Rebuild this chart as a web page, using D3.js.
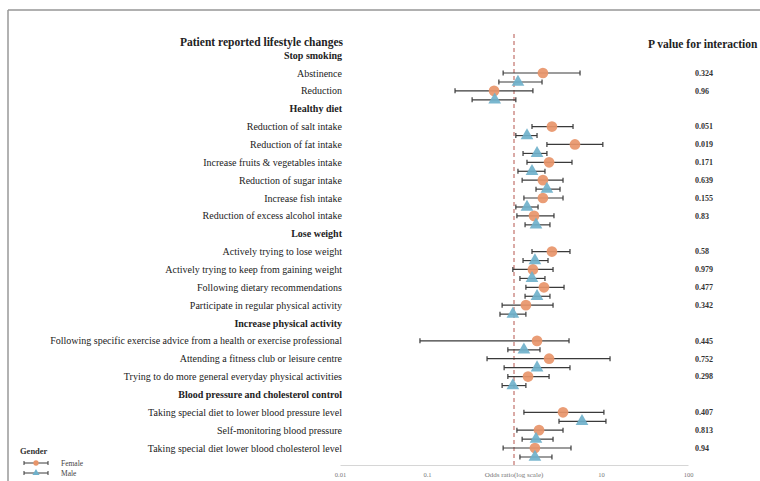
<!DOCTYPE html>
<html>
<head>
<meta charset="utf-8">
<script src="https://cdn.jsdelivr.net/npm/d3@7"></script>
<style>
  html, body { margin: 0; padding: 0; background: #fff; overflow: hidden; }
  svg { display: block; font-family: "Liberation Serif", "DejaVu Serif", serif; }
</style>
</head>
<body>
<svg id="chart" width="760" height="481"></svg>
<script>
// Forest plot: odds ratios of patient-reported lifestyle changes by gender
const title = "Patient reported lifestyle changes";
const pHeader = "P value for interaction";
const axisTitle = "Odds ratio(log scale)";

const groups = [
  "Stop smoking",
  "Healthy diet",
  "Lose weight",
  "Increase physical activity",
  "Blood pressure and cholesterol control"
];

const items = [
  "Abstinence",
  "Reduction",
  "Reduction of salt intake",
  "Reduction of fat intake",
  "Increase fruits & vegetables intake",
  "Reduction of sugar intake",
  "Increase fish intake",
  "Reduction of excess alcohol intake",
  "Actively trying to lose weight",
  "Actively trying to keep from gaining weight",
  "Following dietary recommendations",
  "Participate in regular physical activity",
  "Following specific exercise advice from a health or exercise professional",
  "Attending a fitness club or leisure centre",
  "Trying to do more general everyday physical activities",
  "Taking special diet to lower blood pressure level",
  "Self-monitoring blood pressure",
  "Taking special diet lower blood cholesterol level"
];
const itemGroup = [0, 0, 1, 1, 1, 1, 1, 1, 2, 2, 2, 2, 3, 3, 3, 4, 4, 4];

const femaleOR = [2.15, 0.59, 2.73, 5.02, 2.53, 2.15, 2.15, 1.70, 2.73, 1.65, 2.21, 1.37, 1.84, 2.53, 1.45, 3.66, 1.94, 1.74];
const femaleLo = [0.75, 0.21, 1.61, 2.39, 1.41, 1.24, 1.30, 1.08, 1.61, 0.97, 1.37, 0.73, 0.083, 0.49, 0.85, 1.30, 1.08, 0.75];
const femaleHi = [5.74, 1.65, 4.77, 10.5, 4.64, 3.66, 3.66, 2.88, 4.40, 2.81, 3.76, 2.81, 4.29, 12.7, 2.53, 10.8, 3.66, 4.52];

const maleOR = [1.11, 0.60, 1.41, 1.84, 1.61, 2.39, 1.41, 1.79, 1.74, 1.61, 1.84, 0.97, 1.30, 1.84, 0.97, 6.05, 1.79, 1.74];
const maleLo = [0.67, 0.33, 1.05, 1.27, 1.11, 1.79, 1.05, 1.34, 1.27, 1.17, 1.34, 0.69, 0.85, 0.77, 0.73, 3.29, 1.24, 1.17];
const maleHi = [2.10, 1.05, 1.84, 2.39, 2.27, 3.38, 1.89, 2.59, 2.46, 2.27, 2.59, 1.37, 1.99, 4.40, 1.37, 11.4, 2.81, 2.73];

const pValues = ["0.324", "0.96", "0.051", "0.019", "0.171", "0.639", "0.155", "0.83", "0.58", "0.979", "0.477", "0.342", "0.445", "0.752", "0.298", "0.407", "0.813", "0.94"];

const tickValues = [0.01, 0.1, 10, 100];
const tickLabels = ["0.01", "0.1", "10", "100"];

const legendTitle = "Gender";
const seriesNames = ["Female", "Male"];
const seriesColors = ["#e8956a", "#6fb1cb"];

// ---- layout: one slot per group header and per item ----
const rows = [];
let slot = -1;
groups.forEach((g, gi) => {
  rows.push({ type: "header", text: g, slot: slot });
  slot += 1;
  items.forEach((name, i) => {
    if (itemGroup[i] === gi) {
      rows.push({ type: "item", text: name, slot: slot, i: i });
      slot += 1;
    }
  });
});

const svg = d3.select("#chart");

const x = d3.scaleLog().domain([0.01, 100]).range([340, 688]);
const y = d3.scaleLinear().domain([0, 21]).range([73, 448]);
const maleOffset = 9;

// frame
svg.append("line").attr("x1", 8).attr("x2", 760).attr("y1", 10).attr("y2", 10)
  .attr("stroke", "#b0b0b0").attr("stroke-width", 2);
svg.append("line").attr("x1", 8).attr("x2", 8).attr("y1", 10).attr("y2", 481)
  .attr("stroke", "#999").attr("stroke-width", 1.5);

// titles
svg.append("text").attr("x", 343).attr("y", y(-1) - 13).attr("dy", "0.35em")
  .attr("text-anchor", "end").attr("font-weight", "bold").attr("font-size", 11.5)
  .attr("fill", "#222").text(title);
svg.append("text").attr("x", 648).attr("y", y(-1) - 11).attr("dy", "0.35em")
  .attr("font-weight", "bold").attr("font-size", 11.5)
  .attr("fill", "#222").text(pHeader);

// row labels
svg.append("g").selectAll("text").data(rows).join("text")
  .attr("x", 342)
  .attr("y", d => y(d.slot))
  .attr("dy", "0.35em")
  .attr("text-anchor", "end")
  .attr("font-size", 10)
  .attr("font-weight", d => d.type === "header" ? "bold" : "normal")
  .attr("fill", "#222")
  .text(d => d.text);

// p values
const itemRows = rows.filter(d => d.type === "item");
svg.append("g").selectAll("text").data(itemRows).join("text")
  .attr("x", 695)
  .attr("y", d => y(d.slot))
  .attr("dy", "0.35em")
  .attr("font-size", 8)
  .attr("font-weight", "bold")
  .attr("fill", "#333")
  .text(d => pValues[d.i]);

// x axis
const axisY = 465;
const axis = svg.append("g").attr("transform", `translate(0,${axisY})`)
  .call(d3.axisBottom(x).tickValues(tickValues).tickFormat((d, i) => tickLabels[i]).tickSize(0).tickPadding(7));
axis.select(".domain").attr("stroke", "#d6d6d6");
axis.selectAll("text").attr("font-family", "Liberation Serif, serif").attr("font-size", 6.5).attr("fill", "#777");
svg.append("text").attr("x", x(1)).attr("y", axisY + 7).attr("dy", "0.71em")
  .attr("text-anchor", "middle").attr("font-size", 7).attr("fill", "#777").text(axisTitle);

// reference line at OR = 1
svg.append("line").attr("x1", x(1)).attr("x2", x(1)).attr("y1", 34).attr("y2", axisY)
  .attr("stroke", "#b5544c").attr("stroke-width", 1).attr("stroke-dasharray", "4,3");

// series
const series = [
  { name: seriesNames[0], color: seriesColors[0], or: femaleOR, lo: femaleLo, hi: femaleHi, off: 0, shape: d3.symbolCircle },
  { name: seriesNames[1], color: seriesColors[1], or: maleOR, lo: maleLo, hi: maleHi, off: maleOffset, shape: d3.symbolTriangle }
];

const capH = 2.5;
series.forEach(s => {
  const g = svg.append("g");
  const data = itemRows.map(r => ({ yy: y(r.slot) + s.off, or: s.or[r.i], lo: s.lo[r.i], hi: s.hi[r.i] }));
  g.selectAll("line.ci").data(data).join("line").attr("class", "ci")
    .attr("x1", d => x(d.lo)).attr("x2", d => x(d.hi))
    .attr("y1", d => d.yy).attr("y2", d => d.yy)
    .attr("stroke", "#3a3a3a").attr("stroke-width", 1.2);
  g.selectAll("line.capl").data(data).join("line").attr("class", "capl")
    .attr("x1", d => x(d.lo)).attr("x2", d => x(d.lo))
    .attr("y1", d => d.yy - capH).attr("y2", d => d.yy + capH)
    .attr("stroke", "#3a3a3a").attr("stroke-width", 1.2);
  g.selectAll("line.caph").data(data).join("line").attr("class", "caph")
    .attr("x1", d => x(d.hi)).attr("x2", d => x(d.hi))
    .attr("y1", d => d.yy - capH).attr("y2", d => d.yy + capH)
    .attr("stroke", "#3a3a3a").attr("stroke-width", 1.2);
  g.selectAll("path").data(data).join("path")
    .attr("transform", d => `translate(${x(d.or)},${d.yy})`)
    .attr("d", d3.symbol().type(s.shape).size(s.shape === d3.symbolCircle ? 90 : 70))
    .attr("fill", s.color).attr("fill-opacity", 0.92);
});

// legend
const lg = svg.append("g");
lg.append("text").attr("x", 20).attr("y", 451).attr("dy", "0.35em")
  .attr("font-size", 8.5).attr("font-weight", "bold").attr("fill", "#333").text(legendTitle);
series.forEach((s, k) => {
  const yy = 463 + k * 10;
  lg.append("line").attr("x1", 24).attr("x2", 48).attr("y1", yy).attr("y2", yy)
    .attr("stroke", "#3a3a3a").attr("stroke-width", 1);
  [24, 48].forEach(cx => lg.append("line").attr("x1", cx).attr("x2", cx)
    .attr("y1", yy - 2).attr("y2", yy + 2).attr("stroke", "#3a3a3a").attr("stroke-width", 1));
  lg.append("path").attr("transform", `translate(36,${yy})`)
    .attr("d", d3.symbol().type(s.shape).size(22)).attr("fill", s.color);
  lg.append("text").attr("x", 61).attr("y", yy).attr("dy", "0.35em")
    .attr("font-size", 7.5).attr("fill", "#444").text(s.name);
});
</script>
</body>
</html>
